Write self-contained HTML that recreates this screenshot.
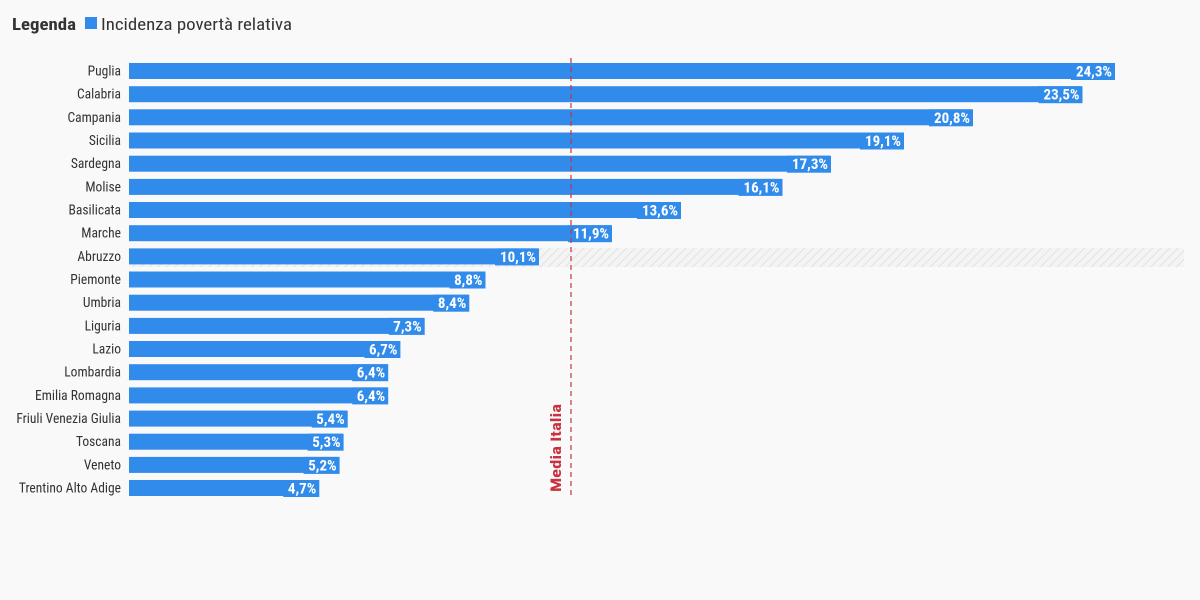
<!DOCTYPE html>
<html><head><meta charset="utf-8"><style>
body{margin:0;background:#f9f9f9;}
svg{display:block;font-family:"Roboto Condensed","Liberation Sans Narrow","Liberation Sans",sans-serif;}
.l{font-size:13.5px;fill:#333;text-anchor:end}
.b{fill:#318bea}
.v{font-size:15px;font-weight:bold;fill:#fff;text-anchor:end}
</style></head><body>
<svg width="1200" height="600" viewBox="0 0 1200 600">
<defs><pattern id="h" width="6" height="6" patternUnits="userSpaceOnUse" patternTransform="rotate(45)"><rect width="6" height="6" fill="#f4f4f4"/><line x1="0" y1="0" x2="0" y2="6" stroke="#e2e2e2" stroke-width="2"/></pattern></defs>
<rect width="1200" height="600" fill="#f9f9f9"/>
<text x="12" y="30" font-size="17" font-weight="bold" fill="#333" textLength="64" lengthAdjust="spacingAndGlyphs">Legenda</text>
<rect x="85" y="17" width="12" height="12" fill="#318bea"/>
<text x="101" y="30" font-size="17" fill="#333" textLength="191" lengthAdjust="spacingAndGlyphs">Incidenza povertà relativa</text>
<rect x="129" y="248" width="1055" height="19" fill="url(#h)"/>

<text class="l" x="121" y="75.5">Puglia</text><rect class="b" x="129" y="63" width="984" height="16"/><rect class="b" x="1071" y="63" width="44" height="17"/><text class="v" x="1112" y="76.5">24,3%</text>
<text class="l" x="121" y="98.7">Calabria</text><rect class="b" x="129" y="86.2" width="951.5" height="16"/><rect class="b" x="1038.5" y="86.2" width="44" height="17"/><text class="v" x="1079.5" y="99.7">23,5%</text>
<text class="l" x="121" y="121.8">Campania</text><rect class="b" x="129" y="109.3" width="842" height="16"/><rect class="b" x="929" y="109.3" width="44" height="17"/><text class="v" x="970" y="122.8">20,8%</text>
<text class="l" x="121" y="145">Sicilia</text><rect class="b" x="129" y="132.5" width="773" height="16"/><rect class="b" x="860" y="132.5" width="44" height="17"/><text class="v" x="901" y="146">19,1%</text>
<text class="l" x="121" y="168.2">Sardegna</text><rect class="b" x="129" y="155.7" width="700" height="16"/><rect class="b" x="787" y="155.7" width="44" height="17"/><text class="v" x="828" y="169.2">17,3%</text>
<text class="l" x="121" y="191.4">Molise</text><rect class="b" x="129" y="178.9" width="651.5" height="16"/><rect class="b" x="738.5" y="178.9" width="44" height="17"/><text class="v" x="779.5" y="192.4">16,1%</text>
<text class="l" x="121" y="214.5">Basilicata</text><rect class="b" x="129" y="202" width="550" height="16"/><rect class="b" x="637" y="202" width="44" height="17"/><text class="v" x="678" y="215.5">13,6%</text>
<text class="l" x="121" y="237.7">Marche</text><rect class="b" x="129" y="225.2" width="481" height="16"/><rect class="b" x="568" y="225.2" width="44" height="17"/><text class="v" x="609" y="238.7">11,9%</text>
<text class="l" x="121" y="260.9">Abruzzo</text><rect class="b" x="129" y="248.4" width="408" height="16"/><rect class="b" x="495" y="248.4" width="44" height="17"/><text class="v" x="536" y="261.9">10,1%</text>
<text class="l" x="121" y="284">Piemonte</text><rect class="b" x="129" y="271.5" width="355.5" height="16"/><rect class="b" x="449.5" y="271.5" width="36" height="17"/><text class="v" x="482.5" y="285">8,8%</text>
<text class="l" x="121" y="307.2">Umbria</text><rect class="b" x="129" y="294.7" width="339.3" height="16"/><rect class="b" x="433.3" y="294.7" width="36" height="17"/><text class="v" x="466.3" y="308.2">8,4%</text>
<text class="l" x="121" y="330.4">Liguria</text><rect class="b" x="129" y="317.9" width="294.7" height="16"/><rect class="b" x="388.7" y="317.9" width="36" height="17"/><text class="v" x="421.7" y="331.4">7,3%</text>
<text class="l" x="121" y="353.5">Lazio</text><rect class="b" x="129" y="341" width="270.4" height="16"/><rect class="b" x="364.4" y="341" width="36" height="17"/><text class="v" x="397.4" y="354.5">6,7%</text>
<text class="l" x="121" y="376.7">Lombardia</text><rect class="b" x="129" y="364.2" width="258.2" height="16"/><rect class="b" x="352.2" y="364.2" width="36" height="17"/><text class="v" x="385.2" y="377.7">6,4%</text>
<text class="l" x="121" y="399.9">Emilia Romagna</text><rect class="b" x="129" y="387.4" width="258.2" height="16"/><rect class="b" x="352.2" y="387.4" width="36" height="17"/><text class="v" x="385.2" y="400.9">6,4%</text>
<text class="l" x="121" y="423.1">Friuli Venezia Giulia</text><rect class="b" x="129" y="410.6" width="217.7" height="16"/><rect class="b" x="311.7" y="410.6" width="36" height="17"/><text class="v" x="344.7" y="424.1">5,4%</text>
<text class="l" x="121" y="446.2">Toscana</text><rect class="b" x="129" y="433.7" width="213.6" height="16"/><rect class="b" x="307.6" y="433.7" width="36" height="17"/><text class="v" x="340.6" y="447.2">5,3%</text>
<text class="l" x="121" y="469.4">Veneto</text><rect class="b" x="129" y="456.9" width="209.6" height="16"/><rect class="b" x="303.6" y="456.9" width="36" height="17"/><text class="v" x="336.6" y="470.4">5,2%</text>
<text class="l" x="121" y="492.5">Trentino Alto Adige</text><rect class="b" x="129" y="480" width="189.3" height="16"/><rect class="b" x="283.3" y="480" width="36" height="17"/><text class="v" x="316.3" y="493.5">4,7%</text>

<line x1="571" y1="58" x2="571" y2="497" stroke="#c7323e" stroke-width="1.2" stroke-dasharray="5,4"/>
<text transform="translate(561,492) rotate(-90)" font-size="15" font-weight="bold" fill="#c7323e" textLength="88" lengthAdjust="spacingAndGlyphs">Media Italia</text>
</svg>
</body></html>
